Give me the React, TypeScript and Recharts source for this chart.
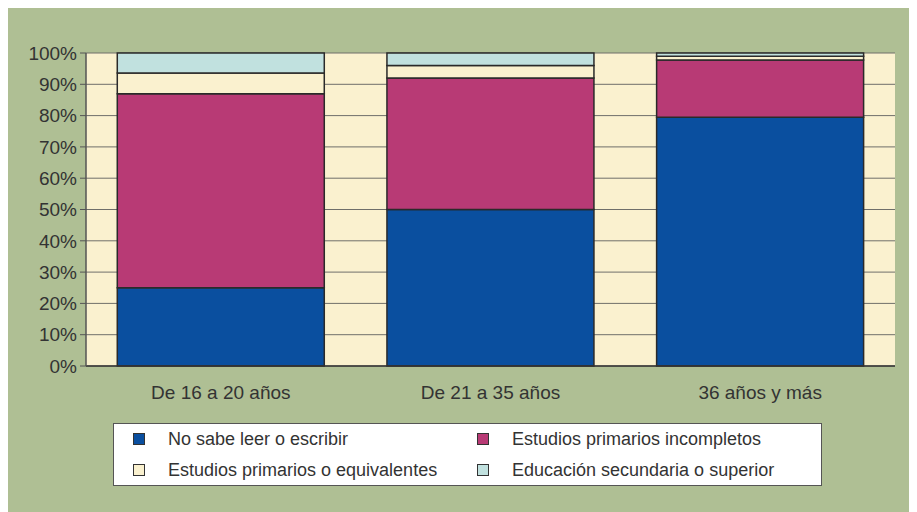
import React from "react"
import { Bar, BarChart, CartesianGrid, XAxis, YAxis } from "recharts"

const categories = ["De 16 a 20 años", "De 21 a 35 años", "36 años y más"]
const noSabe = [25, 50, 79.5]
const primIncompletos = [62, 42, 18.3]
const primEquivalentes = [6.6, 4, 1.2]
const secundaria = [6.4, 4, 1]
const yTicks = [0, 10, 20, 30, 40, 50, 60, 70, 80, 90, 100]

const series = [
  { key: "noSabe", name: "No sabe leer o escribir", color: "#0a4f9f" },
  { key: "primIncompletos", name: "Estudios primarios incompletos", color: "#b83a75" },
  { key: "primEquivalentes", name: "Estudios primarios o equivalentes", color: "#faf1cf" },
  { key: "secundaria", name: "Educación secundaria o superior", color: "#c1e1df" },
]

const data = categories.map((c, i) => ({
  name: c,
  noSabe: noSabe[i],
  primIncompletos: primIncompletos[i],
  primEquivalentes: primEquivalentes[i],
  secundaria: secundaria[i],
}))

const font = "'Liberation Sans', Arial, sans-serif"

function LegendBox() {
  // two columns: 0,2 on the left, 1,3 on the right
  const order = [0, 2, 1, 3]
  return (
    <div
      style={{
        position: "absolute", left: 105, top: 415, width: 707, height: 61,
        background: "#fff", border: "1px solid #555", fontFamily: font, fontSize: 18, color: "#333",
      }}
    >
      {order.map((idx, j) => {
        const s = series[idx]
        const col = idx % 2
        const row = Math.floor(idx / 2)
        return (
          <div
            key={s.key}
            style={{ position: "absolute", left: col === 0 ? 19 : 363, top: row === 0 ? 4 : 35, height: 22, display: "flex", alignItems: "center" }}
          >
            <span style={{ width: 10, height: 10, background: s.color, border: "1.5px solid #333", display: "inline-block" }} />
            <span style={{ marginLeft: 23, whiteSpace: "nowrap" }}>{s.name}</span>
          </div>
        )
      })}
    </div>
  )
}

export default function App() {
  return (
    <div style={{ position: "relative", width: 909, height: 504, background: "#afbf94" }}>
      <BarChart width={909} height={400} data={data} margin={{ top: 45, right: 22, left: 0, bottom: 0 }} barCategoryGap="11.6%">
        <CartesianGrid vertical={false} stroke="#6f6f6a" fill="#faf1cf" fillOpacity={1} />
        <XAxis xAxisId="ticks" type="number" domain={[0, 3]} ticks={[0, 1, 2, 3]} tick={false} height={0} axisLine={false} tickLine={{ stroke: "#555" }} tickSize={6} />
        <XAxis xAxisId="cat" dataKey="name" height={42} axisLine={{ stroke: "#333", strokeWidth: 1.5 }} tickLine={false}
          tick={{ fontSize: 19, fill: "#333", fontFamily: font, dy: 12 }} interval={0} />
        <YAxis domain={[0, 100]} ticks={yTicks} width={78} tickFormatter={(v) => `${v}%`} interval={0}
          axisLine={{ stroke: "#555", strokeWidth: 1.5 }} tickLine={{ stroke: "#555" }} tickSize={6}
          tick={{ fontSize: 19, fill: "#333", fontFamily: font, dx: -1 }} />
        <YAxis yAxisId="right" orientation="right" width={0} domain={[0, 100]} tick={false} tickLine={false} axisLine={{ stroke: "#999" }} />
        {series.map((s) => (
          <Bar key={s.key} dataKey={s.key} name={s.name} stackId="a" xAxisId="cat" fill={s.color} stroke="#2a2a2a" strokeWidth={1.5} isAnimationActive={false} />
        ))}
      </BarChart>
      <LegendBox />
    </div>
  )
}
